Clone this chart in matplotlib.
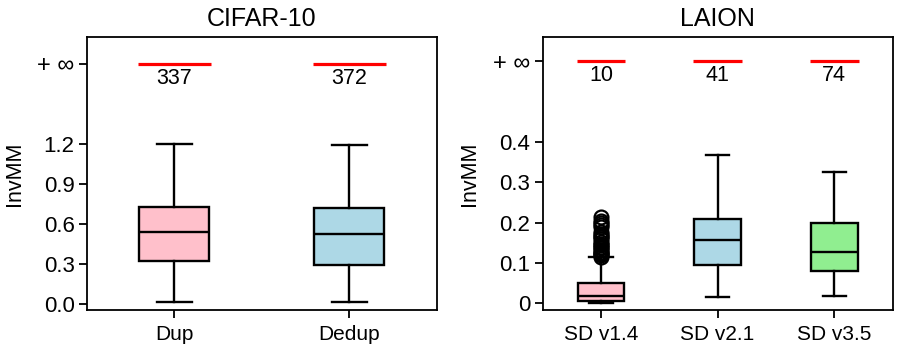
import numpy as np
import matplotlib
matplotlib.use('Agg')
import matplotlib.pyplot as plt

plt.rcParams['font.family'] = ['Liberation Sans', 'DejaVu Sans']

# CIFAR-10 box stats (whislo, q1, med, q3, whishi) and counts of +inf
cifar_labels = ['Dup', 'Dedup']
cifar_stats = [
    [0.019, 0.326, 0.538, 0.725, 1.200],
    [0.015, 0.291, 0.523, 0.720, 1.193],
]
cifar_inf = [337, 372]
cifar_colors = ['pink', 'lightblue']

# LAION box stats
laion_labels = ['SD v1.4', 'SD v2.1', 'SD v3.5']
laion_stats = [
    [0.002, 0.006, 0.019, 0.050, 0.114],
    [0.016, 0.095, 0.156, 0.209, 0.367],
    [0.017, 0.080, 0.127, 0.200, 0.325],
]
laion_fliers_v14 = [0.116, 0.119, 0.122, 0.125, 0.128, 0.132, 0.136, 0.140,
                    0.144, 0.148, 0.152, 0.160, 0.164, 0.168, 0.172, 0.176,
                    0.190, 0.195, 0.199, 0.204, 0.213]
laion_inf = [10, 41, 74]
laion_colors = ['pink', 'lightblue', 'lightgreen']


def draw_panel(ax, labels, stats, fliers, inf_counts, colors, inf_y, ylim,
               yticks, yticklabels, title):
    bxp_stats = []
    for i, (lo, q1, med, q3, hi) in enumerate(stats):
        bxp_stats.append(dict(whislo=lo, q1=q1, med=med, q3=q3, whishi=hi,
                              fliers=fliers[i], label=labels[i]))
    pos = np.arange(1, len(labels) + 1)
    bp = ax.bxp(bxp_stats, positions=pos, widths=0.4, patch_artist=True,
                boxprops=dict(linewidth=1.7, edgecolor='black'),
                whiskerprops=dict(linewidth=1.7),
                capprops=dict(linewidth=1.7),
                medianprops=dict(linewidth=1.7, color='black'),
                flierprops=dict(marker='o', markersize=10, markeredgewidth=1.6,
                                markerfacecolor='none', markeredgecolor='black'))
    for patch, c in zip(bp['boxes'], colors):
        patch.set_facecolor(c)
    for p, n in zip(pos, inf_counts):
        ax.hlines(inf_y, p - 0.21, p + 0.21, colors='red', linewidth=2.3)
        ax.text(p, inf_y - (ylim[1] - ylim[0]) * 0.015, str(n), ha='center',
                va='top', fontsize=15.5)
    ax.set_xlim(0.5, len(labels) + 0.5)
    ax.set_ylim(*ylim)
    ax.set_yticks(list(yticks) + [inf_y])
    ax.set_yticklabels(list(yticklabels) + ['+ \u221e'])
    ax.set_ylabel('InvMM', fontsize=15.5, labelpad=9)
    ax.set_title(title, fontsize=18, pad=8)
    ax.tick_params(axis='both', length=5.5, width=1.3)
    ax.tick_params(axis='x', pad=5, labelsize=15)
    ax.tick_params(axis='y', labelsize=16)
    ax.get_yticklabels()[-1].set_fontsize(17)
    for s in ax.spines.values():
        s.set_linewidth(1.3)


fig = plt.figure(figsize=(8.97, 3.46), dpi=100)
ax1 = fig.add_axes([0.097, 0.104, 0.390, 0.789])
ax2 = fig.add_axes([0.605, 0.104, 0.390, 0.789])

draw_panel(ax1, cifar_labels, cifar_stats, [[], []], cifar_inf, cifar_colors,
           1.8, (-0.043, 2.0), [0.0, 0.3, 0.6, 0.9, 1.2],
           ['0.0', '0.3', '0.6', '0.9', '1.2'], 'CIFAR-10')
draw_panel(ax2, laion_labels, laion_stats, [laion_fliers_v14, [], []],
           laion_inf, laion_colors, 0.6, (-0.0166, 0.66),
           [0, 0.1, 0.2, 0.3, 0.4], ['0', '0.1', '0.2', '0.3', '0.4'], 'LAION')

fig.savefig('out.png', dpi=100)
